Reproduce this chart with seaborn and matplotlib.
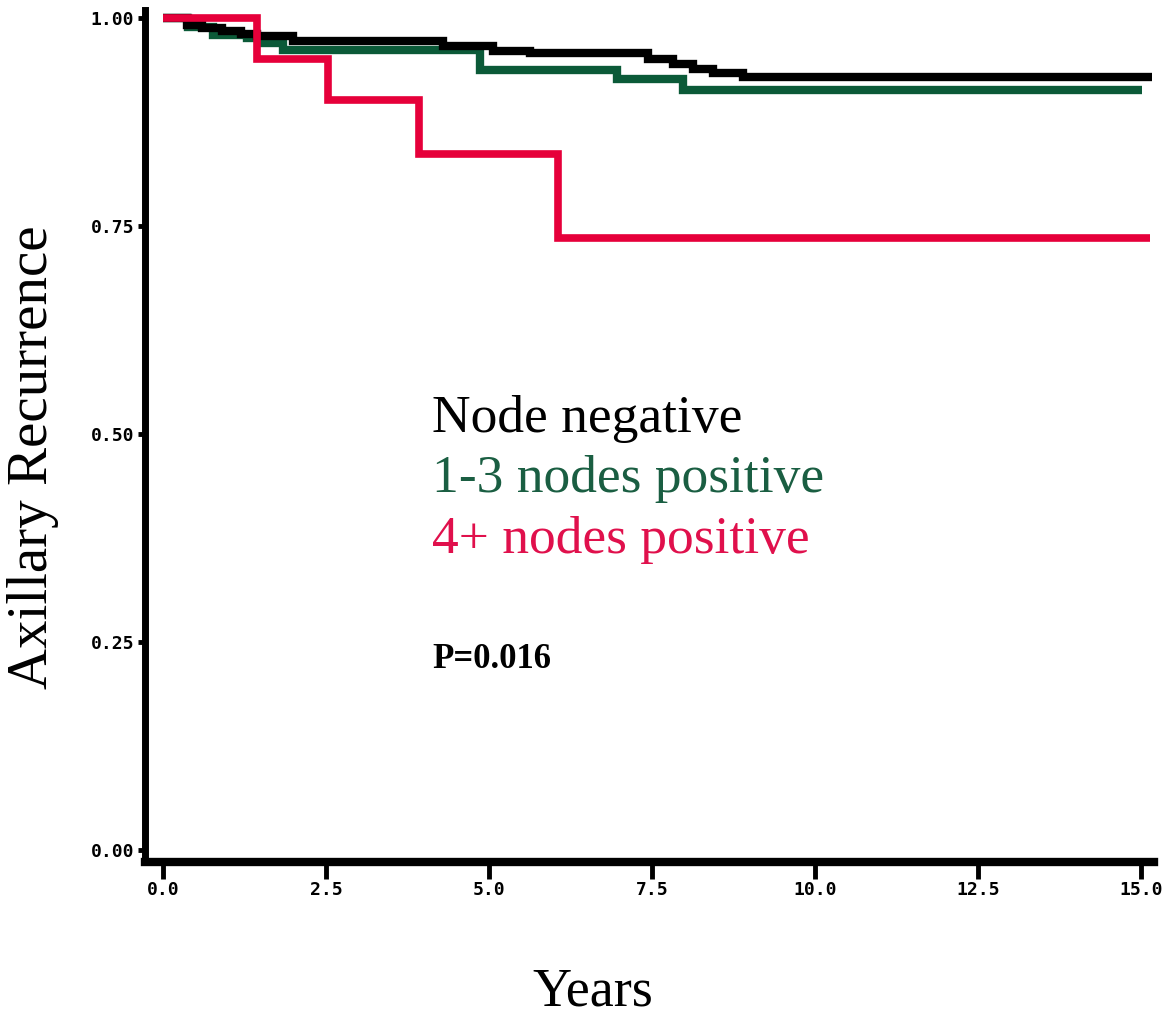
import numpy as np
import pandas as pd
import matplotlib
matplotlib.use("Agg")
import matplotlib.pyplot as plt
import seaborn as sns

# ---- data ----
neg_t = [0.0, 0.37, 0.6, 0.9, 1.2, 1.44, 2.0, 4.29, 5.06, 5.63, 7.44, 7.82, 8.13, 8.44, 8.9, 15.17]
neg_s = [1.0, 0.992, 0.988, 0.984, 0.981, 0.978, 0.972, 0.966, 0.960, 0.958, 0.951, 0.945, 0.939, 0.934, 0.929, 0.929]

pos13_t = [0.0, 0.38, 0.77, 1.29, 1.49, 1.84, 4.86, 6.96, 7.98, 15.02]
pos13_s = [1.0, 0.989, 0.980, 0.976, 0.970, 0.961, 0.938, 0.927, 0.914, 0.914]

pos4_t = [0.0, 1.44, 2.53, 3.93, 6.06, 15.14]
pos4_s = [1.0, 0.951, 0.901, 0.837, 0.736, 0.736]

x_ticks = [0.0, 2.5, 5.0, 7.5, 10.0, 12.5, 15.0]
x_labels = ["0.0", "2.5", "5.0", "7.5", "10.0", "12.5", "15.0"]
y_ticks = [0.0, 0.25, 0.5, 0.75, 1.0]
y_labels = ["0.00", "0.25", "0.50", "0.75", "1.00"]

legend_labels = ["Node negative", "1-3 nodes positive", "4+ nodes positive"]
p_text = "P=0.016"

# ---- style ----
sns.set_theme(style="ticks")
plt.rcParams["font.family"] = ["DejaVu Sans"]

W, H = 1174, 1015
fig = plt.figure(figsize=(W / 100, H / 100), dpi=100)
left, right, top, bottom = 145, 1154, 10, 862
ax = fig.add_axes([left / W, 1 - bottom / H, (right - left) / W, (bottom - top) / H])

c_black = "#000000"
c_green = "#0b5a38"
c_red = "#e6003a"

series = [
    (pos13_t, pos13_s, c_green, 6.0),
    (neg_t, neg_s, c_black, 6.0),
    (pos4_t, pos4_s, c_red, 5.5),
]
for t, s, col, lw in series:
    df = pd.DataFrame({"t": t, "s": s})
    sns.lineplot(data=df, x="t", y="s", ax=ax, color=col, linewidth=lw,
                 drawstyle="steps-post", estimator=None, sort=False,
                 solid_joinstyle="miter", solid_capstyle="butt")

ax.set_xlim(-0.276, 15.2)
ax.set_ylim(-0.01442, 1.00962)
ax.set_xlabel("")
ax.set_ylabel("")

for sp in ["top", "right"]:
    ax.spines[sp].set_visible(False)
ax.spines["left"].set_linewidth(5)
ax.spines["bottom"].set_linewidth(6)
ax.spines["left"].set_color("black")
ax.spines["bottom"].set_color("black")

ax.set_xticks(x_ticks)
ax.set_xticklabels(x_labels)
ax.set_yticks(y_ticks)
ax.set_yticklabels(y_labels)
ax.tick_params(axis="x", direction="out", length=12, width=3.5, pad=2, color="black")
ax.tick_params(axis="y", direction="out", length=5, width=3.5, pad=3, color="black")
for lab in ax.get_xticklabels() + ax.get_yticklabels():
    lab.set_fontfamily("DejaVu Sans Mono")
    lab.set_fontweight("bold")
    lab.set_fontsize(13)
    lab.set_color("black")

serif = ["Liberation Serif", "DejaVu Serif"]
fig.text(33 / W, 1 - 457 / H, "Axillary Recurrence", rotation=90, ha="center", va="center",
         fontsize=41, family=serif, color="black")
fig.text(593 / W, 1 - 1005 / H, "Years", ha="center", va="baseline",
         fontsize=39, family=serif, color="black")

text_cols = ["#000000", "#1a5e42", "#e0104c"]
baselines = [432, 492, 553]
for lab, col, yb in zip(legend_labels, text_cols, baselines):
    fig.text(432 / W, 1 - yb / H, lab, ha="left", va="baseline",
             fontsize=38.5, family=serif, color=col)

fig.text(432 / W, 1 - 668 / H, p_text, ha="left", va="baseline",
         fontsize=25, family=serif, fontweight="bold", color="black")

fig.savefig("out.png", dpi=100, facecolor="white")
